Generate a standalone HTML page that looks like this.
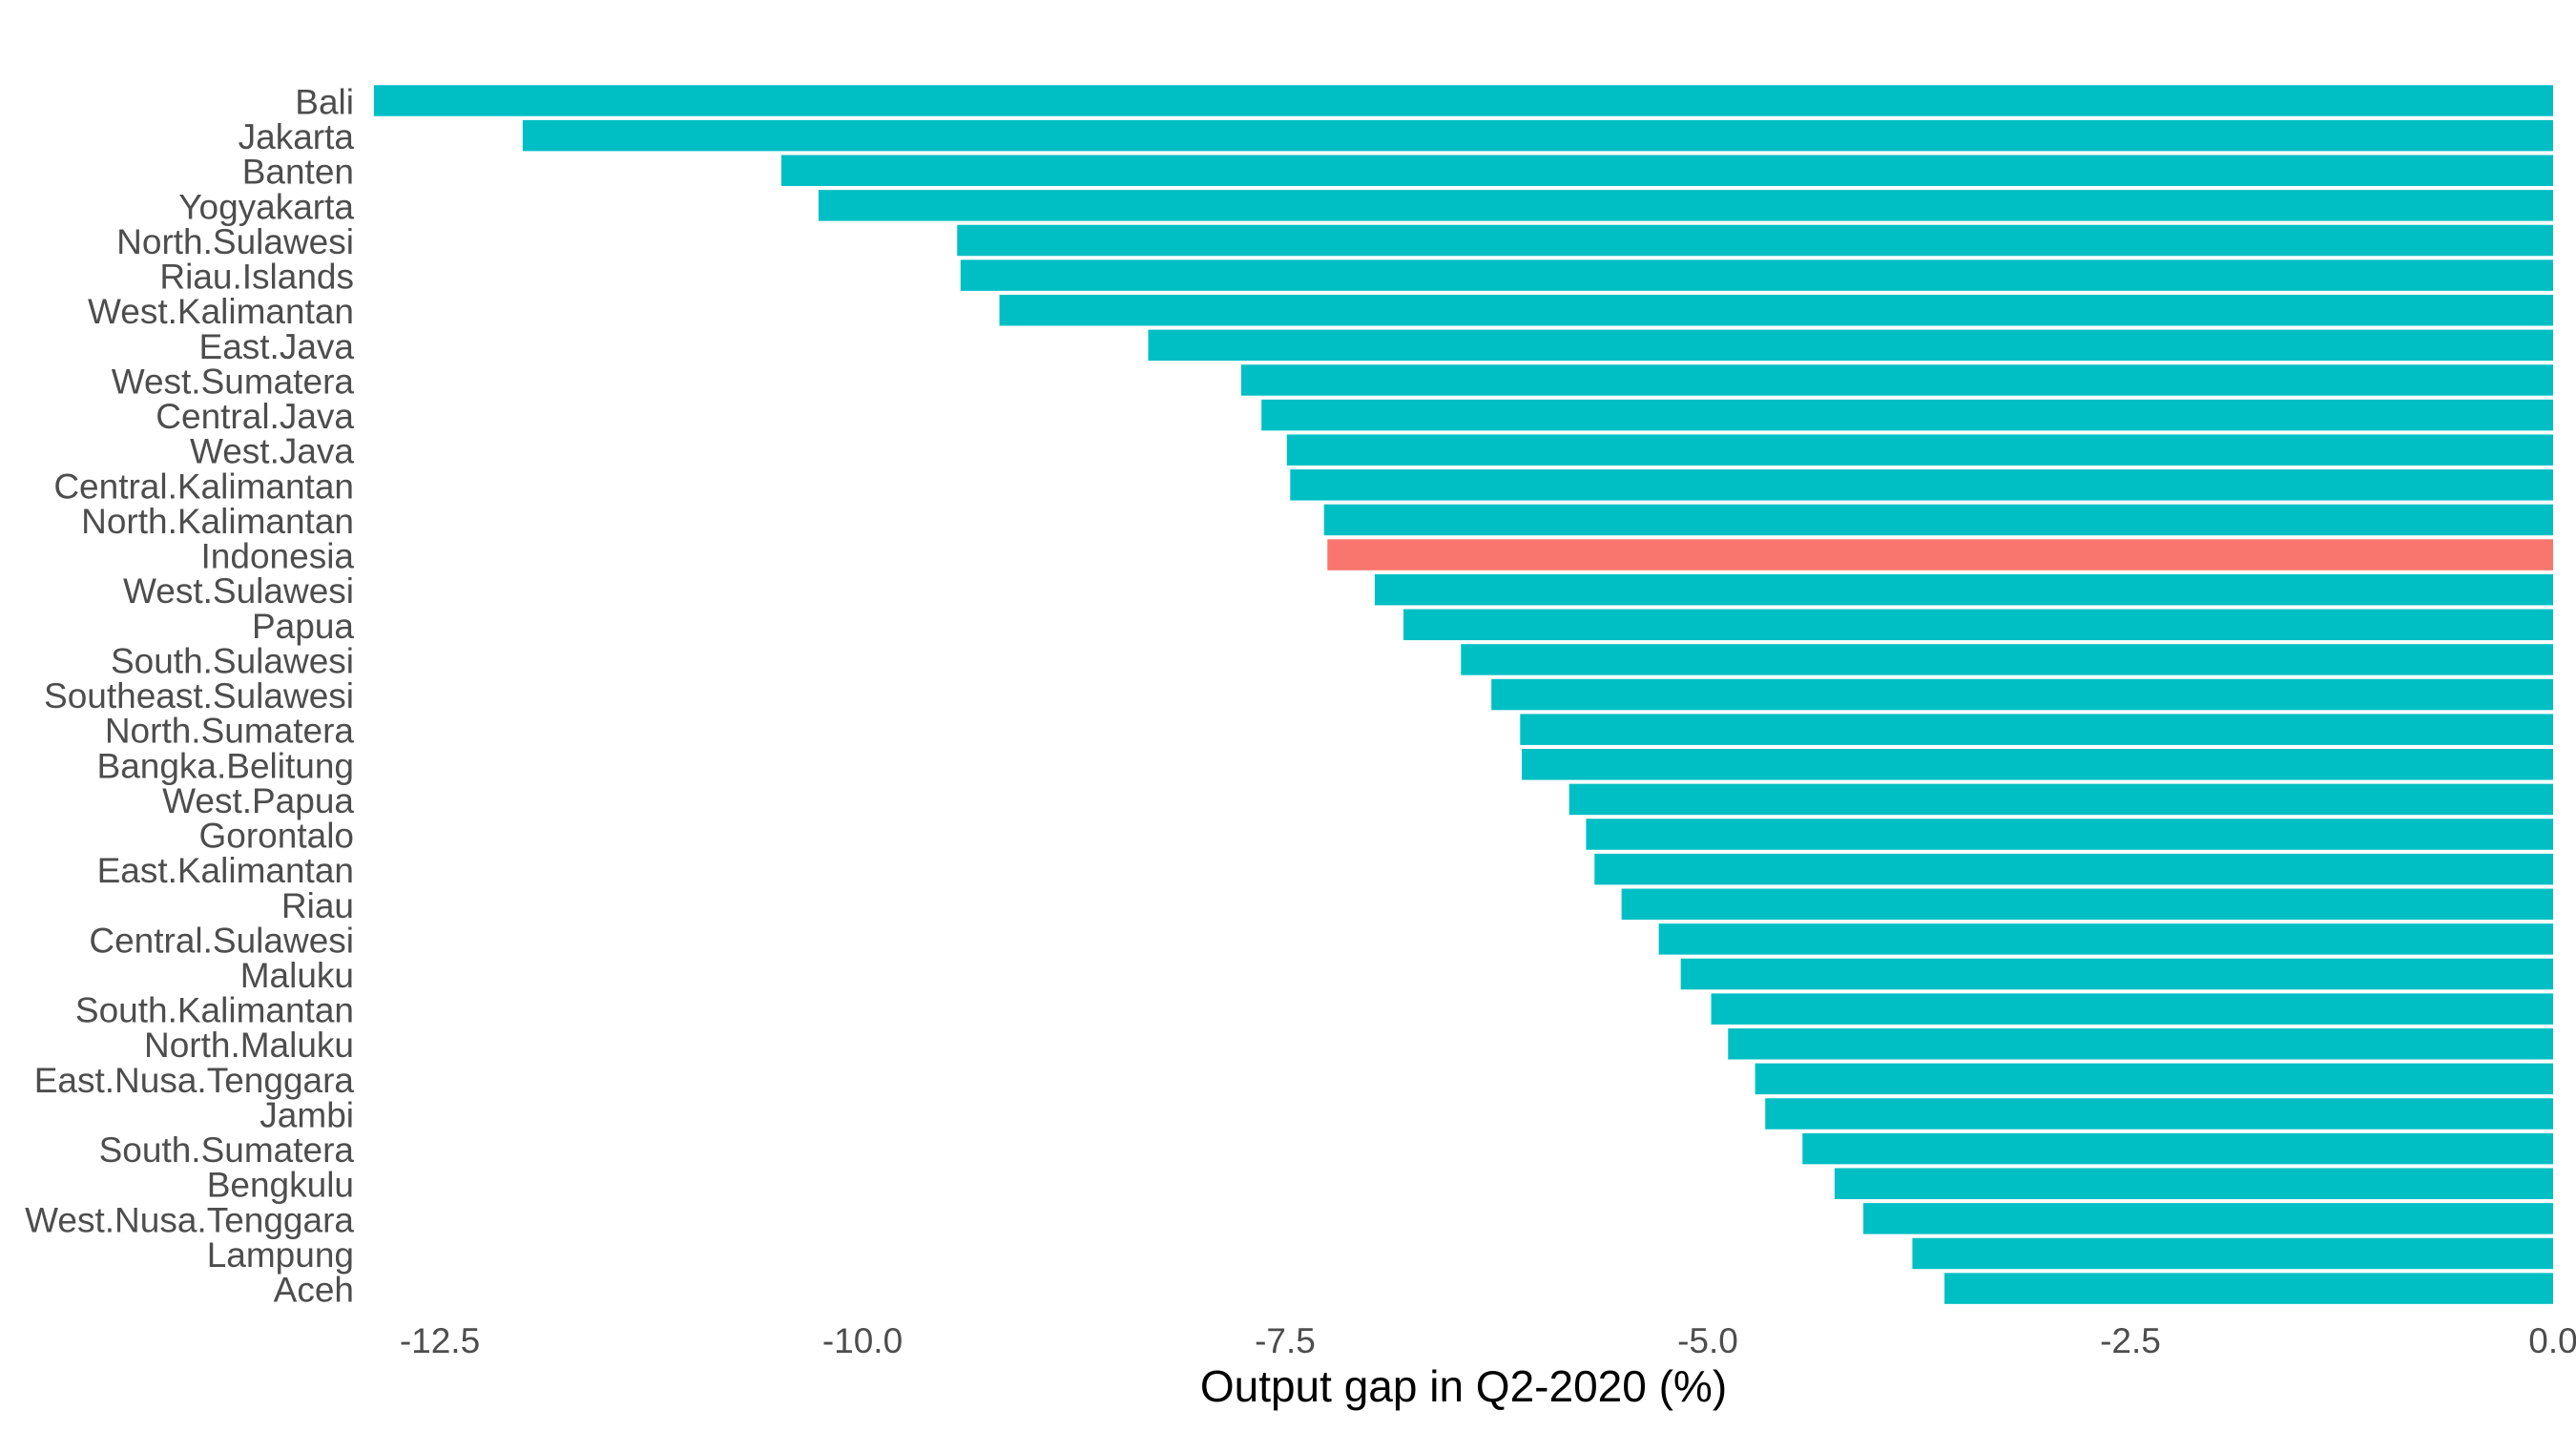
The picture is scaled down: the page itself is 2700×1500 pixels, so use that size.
<!DOCTYPE html>
<html><head><meta charset="utf-8"><style>
html,body{margin:0;padding:0;background:#fff;}
svg{display:block;font-family:"Liberation Sans",Arial,sans-serif;}
</style></head><body>
<svg id="chart" width="2700" height="1500" viewBox="0 0 2700 1500">
<g id="bars"></g>
<g id="ylabels"></g>
<g id="xticks"></g>
<text x="1534" y="1469" font-size="46" text-anchor="middle" fill="#000">Output gap in Q2-2020 (%)</text>
</svg>
<script>
const regions = ["Bali","Jakarta","Banten","Yogyakarta","North.Sulawesi","Riau.Islands","West.Kalimantan","East.Java","West.Sumatera","Central.Java","West.Java","Central.Kalimantan","North.Kalimantan","Indonesia","West.Sulawesi","Papua","South.Sulawesi","Southeast.Sulawesi","North.Sumatera","Bangka.Belitung","West.Papua","Gorontalo","East.Kalimantan","Riau","Central.Sulawesi","Maluku","South.Kalimantan","North.Maluku","East.Nusa.Tenggara","Jambi","South.Sumatera","Bengkulu","West.Nusa.Tenggara","Lampung","Aceh"];
const gaps = [-12.89,-12.01,-10.48,-10.26,-9.44,-9.42,-9.19,-8.31,-7.76,-7.64,-7.49,-7.47,-7.27,-7.25,-6.97,-6.80,-6.46,-6.28,-6.11,-6.10,-5.82,-5.72,-5.67,-5.51,-5.29,-5.16,-4.98,-4.88,-4.72,-4.66,-4.44,-4.25,-4.08,-3.79,-3.60];
const tickValues = [-12.5,-10,-7.5,-5,-2.5,0];
const tickLabels = ["-12.5","-10.0","-7.5","-5.0","-2.5","0.0"];

const NS = "http://www.w3.org/2000/svg";
const x0 = 2676, pxPerUnit = 177.2;
const xScale = v => x0 + v * pxPerUnit;
const yTop = 105.5, pitch = 36.62, barH = 32.5;
const yScale = i => yTop + i * pitch;

const barsG = document.getElementById('bars');
const labG = document.getElementById('ylabels');
regions.forEach((r, i) => {
  const v = gaps[i];
  const rect = document.createElementNS(NS, 'rect');
  const xa = xScale(v), xb = xScale(0);
  rect.setAttribute('x', Math.min(xa, xb));
  rect.setAttribute('width', Math.abs(xb - xa));
  rect.setAttribute('y', yScale(i) - barH / 2);
  rect.setAttribute('height', barH);
  rect.setAttribute('fill', r === 'Indonesia' ? '#F8766D' : '#00BFC4');
  
  
  barsG.appendChild(rect);

  const t = document.createElementNS(NS, 'text');
  t.setAttribute('x', 371);
  t.setAttribute('y', yScale(i) + 14);
  t.setAttribute('text-anchor', 'end');
  t.setAttribute('font-size', '37');
  t.setAttribute('fill', '#4d4d4d');
  t.textContent = r;
  
  
  labG.appendChild(t);
});

const tickG = document.getElementById('xticks');
tickValues.forEach((v, i) => {
  const t = document.createElementNS(NS, 'text');
  t.setAttribute('x', xScale(v));
  t.setAttribute('y', 1418);
  t.setAttribute('text-anchor', 'middle');
  t.setAttribute('font-size', '37');
  t.setAttribute('fill', '#4d4d4d');
  t.textContent = tickLabels[i];
  
  
  tickG.appendChild(t);
});
</script>
</body></html>
